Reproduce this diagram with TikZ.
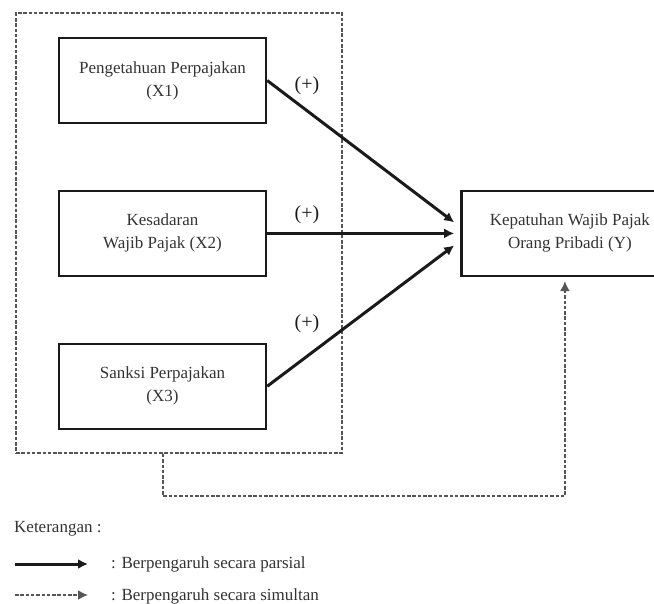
\documentclass[tikz,border=0pt]{standalone}
\usepackage{fontspec}
\setmainfont{Liberation Serif}
\usetikzlibrary{calc,positioning,arrows.meta}
\definecolor{ink}{HTML}{1A1A1A}
\definecolor{txt}{HTML}{333333}
\definecolor{dash}{HTML}{555555}
\tikzset{
  varbox/.style = {draw=ink,line width=2.4pt,minimum width=207pt,minimum height=85pt,align=center,text=txt,font=\fontsize{17}{23}\selectfont,inner sep=0pt},
  depbox/.style = {varbox,minimum width=217pt},
  grpbox/.style = {draw=dash,line width=1.8pt,dash pattern=on 3.5pt off 1.8pt,minimum width=326pt,minimum height=440pt,inner sep=0pt},
  sign/.style = {text=ink,font=\fontsize{20}{22}\selectfont,inner sep=0pt},
  arrp/.style = {draw=ink,line width=3pt,-{Latex[length=10pt,width=10pt]}},
  arrs/.style = {draw=dash,line width=1.8pt,dash pattern=on 3.5pt off 1.8pt,-{Latex[length=10pt,width=10pt]}},
  leg/.style = {anchor=west,text=txt,font=\fontsize{17}{20}\selectfont,inner sep=0pt}
}
\newlength{\vgap}
\setlength{\vgap}{65.5pt}

\begin{document}
\begin{tikzpicture}[x=1pt,y=-1pt]
\useasboundingbox (0,0) rectangle (654,604);

\node[grpbox] (grp) at (179,233) {};

\node[varbox] (x1) at (162.5,80.5) {Pengetahuan Perpajakan\\(X1)};
\node[varbox,below=\vgap of x1] (x2) {Kesadaran\\Wajib Pajak (X2)};
\node[varbox,below=\vgap of x2] (x3) {Sanksi Perpajakan\\(X3)};

\node[depbox,right=193pt of x2] (y) {Kepatuhan Wajib Pajak\\Orang Pribadi (Y)};

\coordinate (t1) at ($(y.west)+(-6,-11)$);
\coordinate (t2) at ($(y.west)+(-6,0)$);
\coordinate (t3) at ($(y.west)+(-6,12)$);

\draw[arrp] (x1.east) -- (t1);
\draw[arrp] (x2.east) -- (t2);
\draw[arrp] (x3.east) -- (t3);

\node[sign] (s1) at (307,86) {(+)};
\node[sign] (s2) at (307,215) {(+)};
\node[sign] (s3) at (307,324) {(+)};

% simultaneous path
\coordinate (jn) at (163,496);
\draw[arrs] (grp.south -| jn) -- (jn) -| ($(y.south)+(-5,4)$);

% legend
\node[leg] (ket) at (14,529) {Keterangan :};

\coordinate (p0) at (15,564);
\coordinate (p1) at (88,564);
\draw[arrp] (p0) -- (p1);
\node[leg] (lp) at (111,564) {: Berpengaruh secara parsial};

\coordinate (q0) at (15,595);
\coordinate (q1) at (88,595);
\draw[arrs] (q0) -- (q1);
\node[leg] (ls) at (111,596) {: Berpengaruh secara simultan};
\end{tikzpicture}
\end{document}
